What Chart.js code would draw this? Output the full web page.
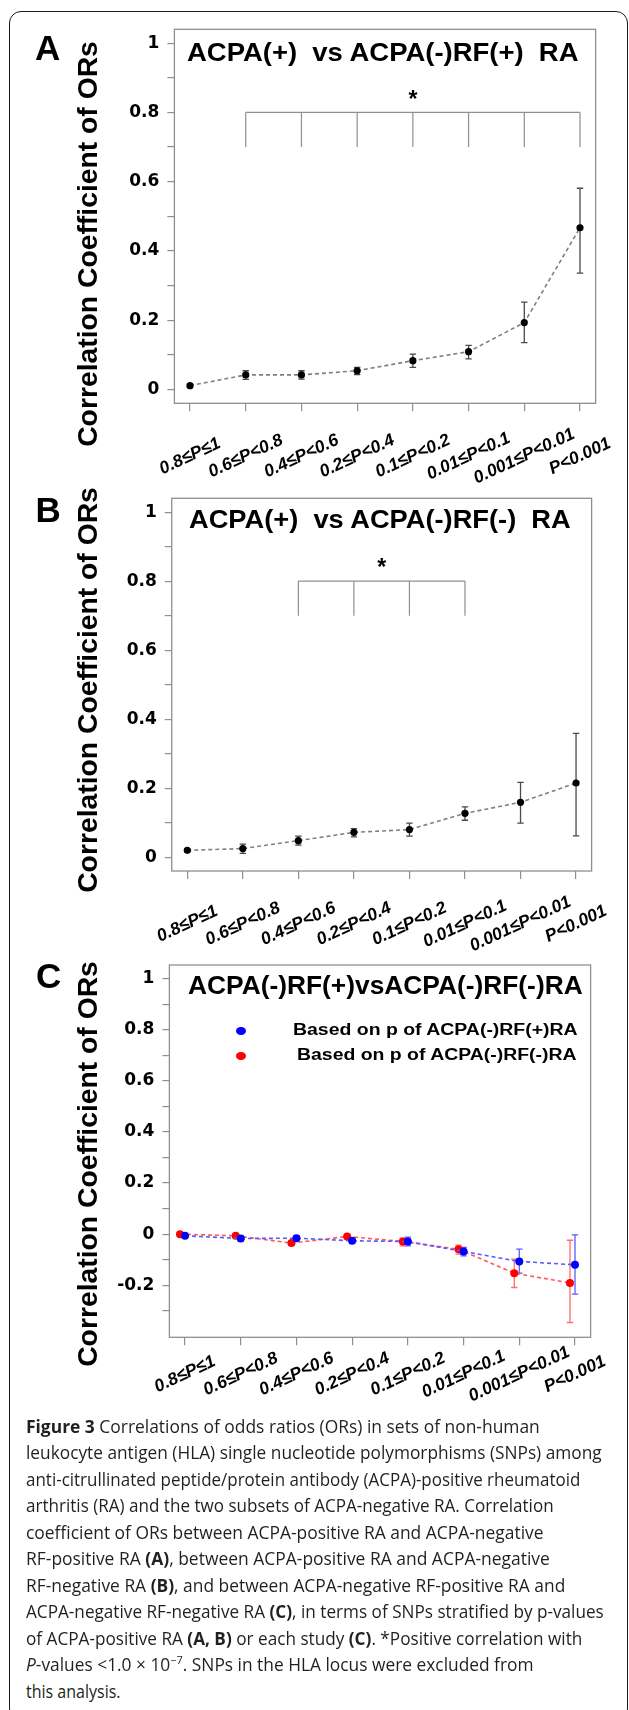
<!DOCTYPE html>
<html>
<head>
<meta charset="utf-8">
<script src="https://cdn.jsdelivr.net/npm/chart.js@4.4.1/dist/chart.umd.min.js"></script>
<style>
html,body{margin:0;padding:0;background:#fff;}
body{width:629px;height:1710px;position:relative;overflow:hidden;font-family:"Liberation Sans",Arial,sans-serif;}
.frame{position:absolute;left:9px;top:11px;width:619px;height:1710px;border:1.5px solid #1a1a1a;border-radius:12px;box-sizing:border-box;}
canvas{position:absolute;left:0;}
.t{position:absolute;white-space:pre;line-height:1;transform-origin:0 0;color:#000;font-weight:bold;}
.anchor{position:absolute;width:0;height:0;}
.vt{position:absolute;left:0;top:0;white-space:pre;line-height:1;transform-origin:0 0;font-weight:bold;font-size:28.3px;color:#000;transform:rotate(-90deg) translate(-50%,-50%);}
.cap{position:absolute;left:26px;white-space:pre;line-height:1;transform-origin:0 0;font-family:"Open Sans",sans-serif;font-size:17.5px;color:#231f20;}
.cap b{font-weight:700;}
.dot{position:absolute;width:10px;height:8.5px;border-radius:50%;}
</style>
</head>
<body>
<div class="frame"></div>
<canvas id="cA"></canvas>
<canvas id="cB"></canvas>
<canvas id="cC"></canvas>

<!-- panel letters -->
<div class="t" style="left:35px;top:30.4px;font-size:35px;">A</div>
<div class="t" style="left:35.5px;top:491.5px;font-size:35px;">B</div>
<div class="t" style="left:36px;top:958px;font-size:35px;">C</div>

<!-- y titles -->
<div class="anchor" style="left:87px;top:243.7px;"><span class="vt">Correlation Coefficient of ORs</span></div>
<div class="anchor" style="left:87px;top:690px;"><span class="vt">Correlation Coefficient of ORs</span></div>
<div class="anchor" style="left:87px;top:1164.2px;"><span class="vt">Correlation Coefficient of ORs</span></div>

<!-- panel titles -->
<div class="t fit" data-w="391" style="left:187.3px;top:39.5px;font-size:25px;">ACPA(+)  vs ACPA(-)RF(+)  RA</div>
<div class="t fit" data-w="381.5" style="left:188.8px;top:506.8px;font-size:25px;">ACPA(+)  vs ACPA(-)RF(-)  RA</div>
<div class="t fit" data-w="395" style="left:188.3px;top:973.3px;font-size:25px;">ACPA(-)RF(+)vsACPA(-)RF(-)RA</div>

<!-- legend panel C -->
<div class="dot" style="left:235.7px;top:1026.5px;background:#0000ff;"></div>
<div class="dot" style="left:235.7px;top:1051.5px;background:#ff0000;"></div>
<div class="t fit" data-w="284.4" style="left:293.3px;top:1021.5px;font-size:16px;">Based on p of ACPA(-)RF(+)RA</div>
<div class="t fit" data-w="279.3" style="left:296.7px;top:1046.5px;font-size:16px;">Based on p of ACPA(-)RF(-)RA</div>

<!-- caption -->
<div class="cap fit" data-w="513.4" style="top:1417.8px;"><b>Figure 3</b> Correlations of odds ratios (ORs) in sets of non-human</div>
<div class="cap fit" data-w="575.6" style="top:1444.3px;">leukocyte antigen (HLA) single nucleotide polymorphisms (SNPs) among</div>
<div class="cap fit" data-w="554.7" style="top:1470.8px;">anti-citrullinated peptide/protein antibody (ACPA)-positive rheumatoid</div>
<div class="cap fit" data-w="527.4" style="top:1497.3px;">arthritis (RA) and the two subsets of ACPA-negative RA. Correlation</div>
<div class="cap fit" data-w="517.4" style="top:1523.8px;">coefficient of ORs between ACPA-positive RA and ACPA-negative</div>
<div class="cap fit" data-w="523.4" style="top:1550.3px;">RF-positive RA <b>(A)</b>, between ACPA-positive RA and ACPA-negative</div>
<div class="cap fit" data-w="539.5" style="top:1576.8px;">RF-negative RA <b>(B)</b>, and between ACPA-negative RF-positive RA and</div>
<div class="cap fit" data-w="577.6" style="top:1603.3px;">ACPA-negative RF-negative RA <b>(C)</b>, in terms of SNPs stratified by p-values</div>
<div class="cap fit" data-w="556.3" style="top:1629.8px;">of ACPA-positive RA <b>(A, B)</b> or each study <b>(C)</b>. *Positive correlation with</div>
<div class="cap fit" data-w="507.4" style="top:1656.3px;"><i>P</i>-values &lt;1.0 × 10<span style="font-size:11px;position:relative;top:-7px;">−7</span>. SNPs in the HLA locus were excluded from</div>
<div class="cap fit" data-w="94.2" style="top:1682.8px;">this analysis.</div>

<script>
// ---------------- data ----------------
const categories = ["0.8≤P≤1","0.6≤P<0.8","0.4≤P<0.6","0.2≤P<0.4","0.1≤P<0.2","0.01≤P<0.1","0.001≤P<0.01","P<0.001"];

// Panel A: ACPA(+) vs ACPA(-)RF(+) RA
const corrA = [0.011, 0.042, 0.042, 0.054, 0.083, 0.109, 0.193, 0.467];
const lowA  = [0.007, 0.029, 0.030, 0.043, 0.064, 0.088, 0.135, 0.336];
const highA = [0.015, 0.054, 0.054, 0.064, 0.102, 0.127, 0.252, 0.581];

// Panel B: ACPA(+) vs ACPA(-)RF(-) RA
const corrB = [0.020, 0.025, 0.048, 0.072, 0.080, 0.127, 0.159, 0.215];
const lowB  = [0.016, 0.011, 0.035, 0.059, 0.061, 0.107, 0.099, 0.062];
const highB = [0.024, 0.038, 0.061, 0.083, 0.099, 0.146, 0.217, 0.359];

// Panel C: based on p of ACPA(-)RF(+)RA (blue)
const corrCpos = [-0.0065, -0.017, -0.016, -0.026, -0.029, -0.068, -0.107, -0.120];
const lowCpos  = [-0.011, -0.027, -0.024, -0.036, -0.046, -0.085, -0.153, -0.235];
const highCpos = [-0.002, -0.007, -0.008, -0.016, -0.012, -0.052, -0.059, -0.003];
// Panel C: based on p of ACPA(-)RF(-)RA (red)
const corrCneg = [0.000, -0.0065, -0.035, -0.009, -0.029, -0.059, -0.153, -0.191];
const lowCneg  = [-0.004, -0.012, -0.043, -0.015, -0.046, -0.078, -0.209, -0.346];
const highCneg = [0.004, -0.001, -0.027, -0.003, -0.016, -0.043, -0.098, -0.024];

// significance brackets (category index range)
const bracketA = [1, 7];
const bracketB = [2, 5];

// ---------------- plugins ----------------
const boxPlugin = {
  id: 'box',
  beforeDatasetsDraw(chart) {
    const {ctx, chartArea: a} = chart;
    ctx.save();
    ctx.strokeStyle = '#8f8f8f';
    ctx.lineWidth = 1.3;
    ctx.strokeRect(a.left, a.top, a.right - a.left, a.bottom - a.top);
    ctx.restore();
  }
};

const errorBarPlugin = {
  id: 'errbars',
  beforeDatasetsDraw(chart) {
    const {ctx} = chart;
    const xs = chart.scales.x, ys = chart.scales.y;
    chart.data.datasets.forEach(ds => {
      if (!ds.errLow) return;
      ctx.save();
      ctx.strokeStyle = ds.errColor;
      ctx.lineWidth = 1.3;
      ds.data.forEach((p, i) => {
        const x = xs.getPixelForValue(p.x);
        const y1 = ys.getPixelForValue(ds.errLow[i]);
        const y2 = ys.getPixelForValue(ds.errHigh[i]);
        ctx.beginPath();
        ctx.moveTo(x, y1); ctx.lineTo(x, y2);
        ctx.moveTo(x - 3.2, y1); ctx.lineTo(x + 3.2, y1);
        ctx.moveTo(x - 3.2, y2); ctx.lineTo(x + 3.2, y2);
        ctx.stroke();
      });
      ctx.restore();
    });
  }
};

const bracketPlugin = {
  id: 'bracket',
  afterDatasetsDraw(chart, args, o) {
    if (!o || o.from === undefined || o.from === null) return;
    const {ctx} = chart;
    const xs = chart.scales.x, ys = chart.scales.y;
    const yt = ys.getPixelForValue(o.top), yf = ys.getPixelForValue(o.foot);
    ctx.save();
    ctx.strokeStyle = '#8f8f8f';
    ctx.lineWidth = 1.2;
    ctx.beginPath();
    ctx.moveTo(xs.getPixelForValue(o.from), yt);
    ctx.lineTo(xs.getPixelForValue(o.to), yt);
    for (let i = o.from; i <= o.to; i++) {
      const x = xs.getPixelForValue(i);
      ctx.moveTo(x, yt); ctx.lineTo(x, yf);
    }
    ctx.stroke();
    ctx.fillStyle = '#000';
    ctx.font = 'bold 23px "Liberation Sans", Arial, sans-serif';
    ctx.textAlign = 'center';
    ctx.textBaseline = 'alphabetic';
    ctx.fillText('*', xs.getPixelForValue((o.from + o.to) / 2), ys.getPixelForValue(o.star) + 13.2);
    ctx.restore();
  }
};

const xLabelPlugin = {
  id: 'xlabels',
  afterDraw(chart, args, o) {
    const {ctx, chartArea: a} = chart;
    const xs = chart.scales.x;
    ctx.save();
    ctx.fillStyle = '#000';
    ctx.font = 'italic bold 17.5px "Liberation Sans", Arial, sans-serif';
    ctx.textAlign = 'center';
    ctx.textBaseline = 'middle';
    categories.forEach((c, i) => {
      const x = xs.getPixelForValue(i);
      ctx.save();
      ctx.translate(x, a.bottom + o.offset);
      ctx.rotate(-25 * Math.PI / 180);
      ctx.fillText(c, 0, 0);
      ctx.restore();
    });
    ctx.restore();
  }
};

function yLabel(v) {
  const t = Math.round(v * 10);
  if (t % 2 !== 0) return '';
  if (t === 0) return '0';
  if (t === 10) return '1';
  return String(Number((t / 10).toFixed(1)));
}

function panel(id, cfg) {
  const W = 629, H = cfg.height;
  const cv = document.getElementById(id);
  cv.width = W; cv.height = H;
  cv.style.width = W + 'px'; cv.style.height = H + 'px';
  cv.style.top = cfg.top + 'px';
  const topL = cfg.box.top - cfg.top;
  const botL = cfg.box.bottom - cfg.top;
  return new Chart(cv.getContext('2d'), {
    type: 'line',
    data: {datasets: cfg.datasets},
    options: {
      responsive: false, maintainAspectRatio: false, devicePixelRatio: 1, animation: false,
      events: [],
      layout: {autoPadding: false, padding: {left: 0, top: topL, right: W - cfg.box.right, bottom: 0}},
      plugins: {
        legend: {display: false}, tooltip: {enabled: false},
        bracket: cfg.bracket || false,
        xlabels: {offset: cfg.labelOffset}
      },
      scales: {
        x: {
          type: 'linear', min: -0.28, max: 7.28,
          afterBuildTicks: s => { s.ticks = categories.map((c, i) => ({value: i})); },
          afterFit: s => { s.height = H - botL; },
          border: {display: false},
          grid: {display: true, drawOnChartArea: false, drawTicks: true, tickLength: 8, color: '#8f8f8f', lineWidth: 1.2},
          ticks: {display: false}
        },
        y: {
          type: 'linear', min: cfg.yMin, max: cfg.yMax,
          afterBuildTicks: s => { s.ticks = s.ticks.filter(t => t.value >= cfg.yTickMin - 1e-9); },
          afterFit: s => { s.width = cfg.box.left; },
          border: {display: false},
          grid: {display: true, drawOnChartArea: false, drawTicks: true, tickLength: 7, color: '#8f8f8f', lineWidth: 1.2},
          ticks: {
            stepSize: 0.1, includeBounds: false, padding: 8, color: '#000',
            font: {family: '"DejaVu Sans"', weight: 'bold', size: 17},
            callback: v => yLabel(v)
          }
        }
      }
    },
    plugins: [boxPlugin, errorBarPlugin, bracketPlugin, xLabelPlugin]
  });
}

function blackSeries(vals, lo, hi) {
  return {
    data: vals.map((v, i) => ({x: i, y: v})),
    borderColor: '#808080', borderWidth: 1.6, borderDash: [4, 3],
    pointRadius: 3.6, pointBackgroundColor: '#000', pointBorderColor: '#000', pointBorderWidth: 0,
    fill: false, tension: 0,
    errLow: lo, errHigh: hi, errColor: '#4a4a4a'
  };
}

panel('cA', {
  top: 0, height: 490,
  box: {left: 174.4, right: 595.6, top: 29.3, bottom: 403.3},
  yMin: -0.04, yMax: 1.04, yTickMin: 0, labelOffset: 53,
  bracket: {from: bracketA[0], to: bracketA[1], top: 0.8, foot: 0.7, star: 0.853},
  datasets: [blackSeries(corrA, lowA, highA)]
});

panel('cB', {
  top: 480, height: 480,
  box: {left: 171.75, right: 591.6, top: 498.3, bottom: 871.0},
  yMin: -0.04, yMax: 1.04, yTickMin: 0, labelOffset: 53,
  bracket: {from: bracketB[0], to: bracketB[1], top: 0.8, foot: 0.7, star: 0.856},
  datasets: [blackSeries(corrB, lowB, highB)]
});

panel('cC', {
  top: 945, height: 470,
  box: {left: 169.4, right: 590.6, top: 965.0, bottom: 1337.3},
  yMin: -0.404, yMax: 1.054, yTickMin: -0.3, labelOffset: 37,
  bracket: null,
  datasets: [
    {
      label: 'Based on p of ACPA(-)RF(+)RA',
      data: corrCpos.map((v, i) => ({x: i, y: v})),
      borderColor: '#5a5aff', borderWidth: 1.6, borderDash: [4, 3],
      pointRadius: 4, pointBackgroundColor: '#0000ff', pointBorderColor: '#0000ff', pointBorderWidth: 0,
      fill: false, tension: 0,
      errLow: lowCpos, errHigh: highCpos, errColor: '#5c5cff'
    },
    {
      label: 'Based on p of ACPA(-)RF(-)RA',
      data: corrCneg.map((v, i) => ({x: i - 0.09, y: v})),
      borderColor: '#ff5a5a', borderWidth: 1.6, borderDash: [4, 3],
      pointRadius: 4, pointBackgroundColor: '#ff0000', pointBorderColor: '#ff0000', pointBorderWidth: 0,
      fill: false, tension: 0,
      errLow: lowCneg, errHigh: highCneg, errColor: '#ff6c6c'
    }
  ]
});

// ---------------- text fitting ----------------
function fitTexts() {
  document.querySelectorAll('.fit').forEach(el => {
    const w = el.offsetWidth;
    const k = parseFloat(el.dataset.w) / w;
    el.style.transform = 'scaleX(' + k + ')';
  });
}
fitTexts();
if (document.fonts && document.fonts.ready) document.fonts.ready.then(fitTexts);
</script>
</body>
</html>
